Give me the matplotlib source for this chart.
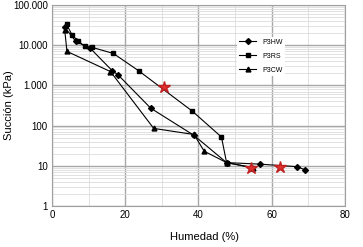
import matplotlib
matplotlib.use("Agg")
import matplotlib.pyplot as plt
from matplotlib.ticker import FixedLocator, LogLocator, NullFormatter

plt.rcParams["font.family"] = ["Liberation Sans", "DejaVu Sans"]

# Data
hw_x = [3.5, 6.5, 10.5, 16.5, 18.0, 27.0, 38.8, 47.7, 56.7, 67.0, 69.0]
hw_y = [28000, 12500, 8300, 2300, 1850, 270, 57, 12, 11, 9.5, 8]

rs_x = [4.0, 5.5, 7.0, 9.0, 11.0, 16.8, 23.7, 38.3, 46.3, 47.7, 54.5]
rs_y = [33000, 18000, 13000, 9300, 8800, 6200, 2300, 230, 52, 12, 9]

cw_x = [3.5, 4.1, 16.0, 27.8, 38.8, 41.6, 47.7, 55.0]
cw_y = [24000, 7000, 2200, 85, 60, 23, 12, 9]

star_x = [30.6, 54.5, 62.3]
star_y = [920, 9, 9.5]

x_ticks = [0, 20, 40, 60, 80]
y_ticks = [1, 10, 100, 1000, 10000, 100000]
y_tick_labels = ["1", "10", "100", "1.000", "10.000", "100.000"]

fig = plt.figure(figsize=(3.63, 2.47), dpi=100)
ax = fig.add_axes([0.143, 0.166, 0.807, 0.814])

ax.plot(hw_x, hw_y, color="black", lw=0.8, marker="D", ms=3, label="P3HW")
ax.plot(rs_x, rs_y, color="black", lw=0.8, marker="s", ms=3.5, label="P3RS")
ax.plot(cw_x, cw_y, color="black", lw=0.8, marker="^", ms=3.5, label="P3CW")
ax.plot(star_x, star_y, ls="none", marker="*", ms=9, color="#e03030",
        markeredgecolor="#c02020", zorder=5)

ax.set_yscale("log")
ax.set_xlim(0, 80)
ax.set_ylim(1, 100000)
ax.xaxis.set_major_locator(FixedLocator(x_ticks))
ax.xaxis.set_minor_locator(FixedLocator(range(0, 81, 10)))
ax.set_yticks(y_ticks)
ax.set_yticklabels(y_tick_labels)
ax.yaxis.set_minor_locator(LogLocator(base=10, subs=range(2, 10)))
ax.yaxis.set_minor_formatter(NullFormatter())

ax.grid(which="major", color="#a8a8a8", lw=1.0)
ax.grid(which="minor", color="#dcdcdc", lw=0.6)
ax.set_axisbelow(True)
ax.tick_params(which="both", length=0, labelsize=7, pad=3)
for s in ax.spines.values():
    s.set_color("#a0a0a0")

ax.set_xlabel("Humedad (%)", fontsize=8)
ax.xaxis.set_label_coords(0.52, -0.13)
ax.set_ylabel("Succión (kPa)", fontsize=8)
ax.yaxis.set_label_coords(-0.13, 0.5)

leg = ax.legend(loc="upper left", bbox_to_anchor=(0.62, 0.86), fontsize=5,
                frameon=True, facecolor="white", edgecolor="none",
                framealpha=1, handlelength=2.5, labelspacing=1.0,
                borderpad=0.3)

fig.savefig("out.png", dpi=100)
